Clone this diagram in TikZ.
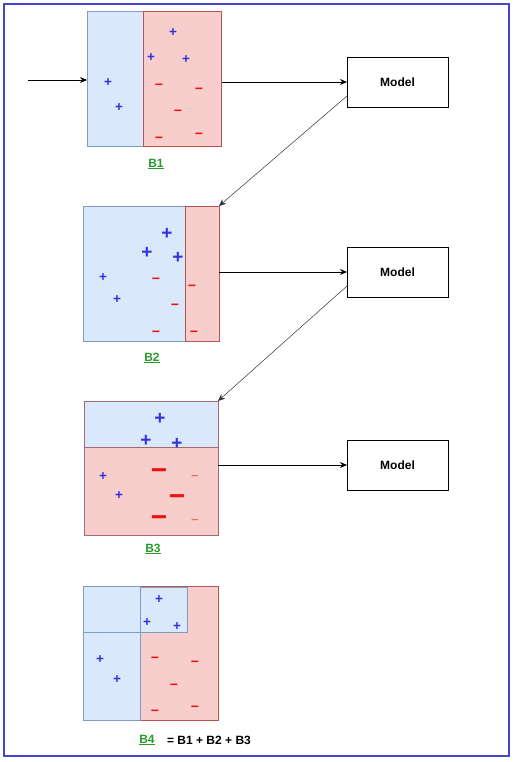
\documentclass[tikz,border=0pt]{standalone}
\usepackage{fontspec}
\setmainfont{Liberation Sans}
\usetikzlibrary{arrows.meta}
\definecolor{bfill}{HTML}{DAE8FC}
\definecolor{bline}{HTML}{7F9CC2}
\definecolor{rfill}{HTML}{F8CECC}
\definecolor{rline}{HTML}{B85450}
\definecolor{frame}{HTML}{3F48CC}
\definecolor{plusc}{HTML}{3333DD}
\definecolor{minusc}{HTML}{EE1111}
\definecolor{lblc}{HTML}{2A9A2A}
\tikzset{
  bluebox/.style={draw=bline,fill=bfill,line width=1pt,inner sep=0pt,outer sep=0pt},
  redbox/.style={draw=rline,fill=rfill,line width=1pt,inner sep=0pt,outer sep=0pt},
  modelbox/.style={draw=black,fill=white,line width=0.8pt,minimum width=101pt,minimum height=50pt,inner sep=0pt,outer sep=0pt,font=\fontsize{12}{14}\selectfont\bfseries},
  arr/.style={draw=black,line width=0.7pt,-{Stealth[length=7pt,width=6pt]}},
  darr/.style={draw=black!80,line width=0.5pt,-{Stealth[length=7pt,width=6pt]}},
  sign/.style={inner sep=0pt,yshift=-2.5pt},
  sp/.style={sign,text=plusc,font=\fontsize{13.5}{13}\selectfont\bfseries},
  bp/.style={sign,text=plusc,font=\fontsize{19}{19}\selectfont\bfseries},
  sm/.style={sign,text=minusc,font=\fontsize{14}{14}\selectfont\bfseries},
  bm/.style={sign,text=minusc,font=\fontsize{28}{28}\selectfont\bfseries},
  lm/.style={sign,text=minusc!75,font=\fontsize{13}{12}\selectfont},
  lbl/.style={inner sep=0pt,text=lblc,font=\fontsize{12}{14}\selectfont\bfseries},
}
\begin{document}
\begin{tikzpicture}[x=1pt,y=-1pt]
\useasboundingbox (0,0) rectangle (516,762);
\draw[frame,line width=2pt] (4,4) rectangle (509,756);

% B1
\node[bluebox,minimum width=56pt,minimum height=135pt] (b1l) at (115,79.5) {};
\node[redbox,minimum width=78.5pt,minimum height=135pt] (b1r) at (182.25,79.5) {};
\node[sp] (p11) at (173,30) {+};
\node[sp] (p12) at (151,55) {+};
\node[sp] (p13) at (186,57) {+};
\node[sp] (p14) at (108,80) {+};
\node[sp] (p15) at (119,105) {+};
\node[sm] (n11) at (159,84) {−};
\node[sm] (n12) at (199,88) {−};
\node[sm] (n13) at (178,110) {−};
\node[sm] (n14) at (159,137) {−};
\node[sm] (n15) at (199,133) {−};
\node[lbl] (l1) at (156,164) {\underline{B1}};

% B2
\node[bluebox,minimum width=102pt,minimum height=135pt] (b2l) at (134,273.5) {};
\node[redbox,minimum width=34pt,minimum height=135pt] (b2r) at (202,273.5) {};
\node[bp] (p21) at (167,231) {+};
\node[bp] (p22) at (147,250) {+};
\node[bp] (p23) at (178,255) {+};
\node[sp] (p24) at (103,275) {+};
\node[sp] (p25) at (117,297) {+};
\node[sm] (n21) at (156,278) {−};
\node[sm] (n22) at (192,285) {−};
\node[sm] (n23) at (175,304) {−};
\node[sm] (n24) at (156,331) {−};
\node[sm] (n25) at (194,331) {−};
\node[lbl] (l2) at (152,358) {\underline{B2}};

% B3
\node[bluebox,draw=rline!70!bline,minimum width=134pt,minimum height=46pt] (b3t) at (151,424) {};
\node[redbox,draw=rline!70!bline,minimum width=134pt,minimum height=88pt] (b3b) at (151,491) {};
\node[bp] (p31) at (160,416) {+};
\node[bp] (p32) at (146,438) {+};
\node[bp] (p33) at (177,441) {+};
\node[sp] (p34) at (103,474) {+};
\node[sp] (p35) at (119,493) {+};
\node[bm] (n31) at (159,472) {−};
\node[bm] (n32) at (177,498) {−};
\node[bm] (n33) at (159,519) {−};
\node[lm] (n34) at (195,476) {−};
\node[lm] (n35) at (195,520) {−};
\node[lbl] (l3) at (153,549) {\underline{B3}};

% B4
\node[redbox,minimum width=135pt,minimum height=134pt] (b4) at (150.5,653) {};
\node[bluebox,minimum width=57pt,minimum height=46pt] (b4a) at (111.5,609) {};
\node[bluebox,minimum width=47pt,minimum height=45pt] (b4b) at (163.5,609.5) {};
\node[bluebox,minimum width=57pt,minimum height=88pt] (b4c) at (111.5,676) {};
\node[sp] (p41) at (159,597) {+};
\node[sp] (p42) at (147,620) {+};
\node[sp] (p43) at (177,624) {+};
\node[sp] (p44) at (100,657) {+};
\node[sp] (p45) at (117,677) {+};
\node[sm] (n41) at (155,657) {−};
\node[sm] (n42) at (195,661) {−};
\node[sm] (n43) at (174,684) {−};
\node[sm] (n44) at (155,710) {−};
\node[sm] (n45) at (195,706) {−};
\node[lbl] (l4) at (147,740) {\underline{B4}};
\node[inner sep=0pt,font=\fontsize{12}{14}\selectfont\bfseries] (eq) at (209,740) {= B1 + B2 + B3};

% Models
\node[modelbox] (m1) at (397.5,82) {Model};
\node[modelbox] (m2) at (397.5,272) {Model};
\node[modelbox] (m3) at (397.5,465) {Model};

% connectors
\coordinate (in) at (28,80);
\draw[arr] (in) -- (in -| b1l.west);
\draw[arr] (m1.west -| b1r.east) -- (m1.west);
\draw[darr] ([yshift=-14pt]m1.west) -- (b2r.north east);
\draw[arr] (m2.west -| b2r.east) -- (m2.west);
\draw[darr] ([yshift=-14pt]m2.west) -- (b3t.north east);
\draw[arr] (m3.west -| b3b.east) -- (m3.west);
\end{tikzpicture}
\end{document}
